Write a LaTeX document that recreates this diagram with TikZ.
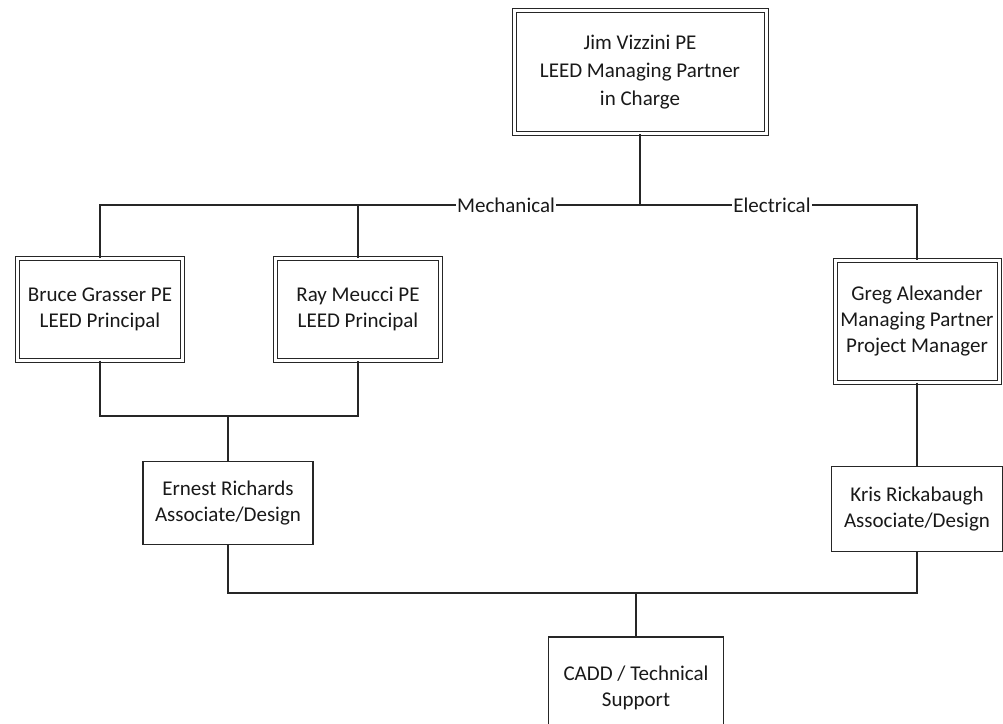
\documentclass[tikz,border=0pt]{standalone}
\usepackage{fontspec}
\setmainfont{Carlito}
\usetikzlibrary{positioning,calc}

\tikzset{
  orgline/.style={line width=1.7pt, draw=black!85},
  leadbox/.style={draw=black!85, line width=1pt, double, double distance=3pt,
    fill=white, align=center, inner sep=2pt, text=black!90,
    font=\fontsize{21}{26}\selectfont},
  staffbox/.style={draw=black!85, line width=1.1pt, fill=white, align=center,
    inner sep=2pt, text=black!90, font=\fontsize{21}{26}\selectfont},
  tradelabel/.style={inner sep=1pt, text=black!90, font=\fontsize{21}{26}\selectfont}
}

\begin{document}
\begin{tikzpicture}[x=1pt, y=-1pt]
  \useasboundingbox (0,0) rectangle (1003,723);
  \clip (0,0) rectangle (1003,723);
  % Partner in charge
  \node[leadbox, minimum width=252pt, minimum height=123pt,
        font=\fontsize{21}{28}\selectfont] (jim) at (640,72)
    {Jim Vizzini PE\\LEED Managing Partner\\in Charge};
  % Trade labels on the bus
  \node[tradelabel] (mech) at (506,205) {Mechanical};
  \node[tradelabel] (elec) at (772,205) {Electrical};
  % Principals
  \node[leadbox, minimum width=165pt, minimum height=102pt] (bruce) at (100,309)
    {Bruce Grasser PE\\LEED Principal};
  \node[leadbox, minimum width=165pt, minimum height=102pt] (ray) at (358,309)
    {Ray Meucci PE\\LEED Principal};
  \node[leadbox, minimum width=164pt, minimum height=122pt] (greg) at (917,321)
    {Greg Alexander\\Managing Partner\\Project Manager};
  % Associates
  \node[staffbox, minimum width=170pt, minimum height=83pt] (ernest) at (228,503)
    {Ernest Richards\\Associate/Design};
  \node[staffbox, minimum width=171pt, minimum height=85pt] (kris) at (917,509)
    {Kris Rickabaugh\\Associate/Design};
  \node[staffbox, minimum width=175pt, minimum height=104pt, text depth=0pt] (cadd) at (636,689)
    {\raisebox{22pt}{\begin{tabular}{c}CADD / Technical\\Support\end{tabular}}};
  % Junctions
  \coordinate (mj) at (228,416);
  \coordinate (cj) at (636,593);
  % Connectors
  \draw[orgline] (bruce.north) |- (mech.west);
  \draw[orgline] (ray.north) -- (ray.north |- mech.west);
  \draw[orgline] (mech.east) -- (elec.west);
  \draw[orgline] (jim.south) -- (jim.south |- mech.east);
  \draw[orgline] (elec.east) -| (greg.north);
  \draw[orgline] (bruce.south) |- (mj) -| (ray.south);
  \draw[orgline] (mj) -- (ernest.north);
  \draw[orgline] (greg.south) -- (kris.north);
  \draw[orgline] (ernest.south) |- (cj) -| (kris.south);
  \draw[orgline] (cj) -- (cadd.north);
\end{tikzpicture}
\end{document}
